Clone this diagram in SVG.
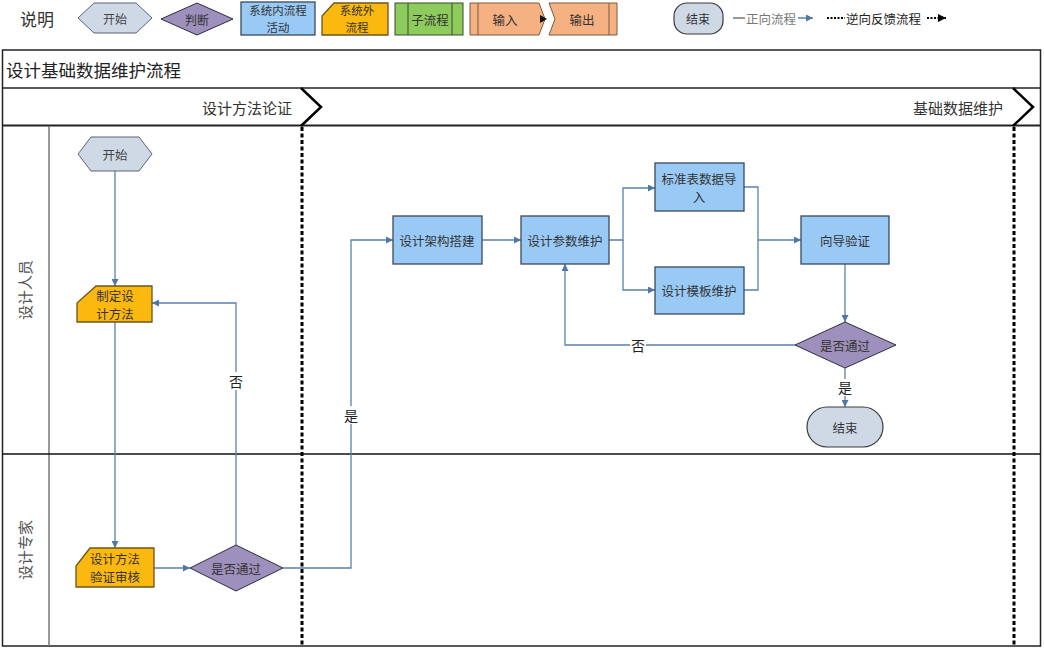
<svg xmlns="http://www.w3.org/2000/svg" width="1044" height="652" viewBox="0 0 1044 652">
<defs>
<style>
text{font-family:"Noto Sans CJK SC","Liberation Sans",sans-serif;fill:#333;}
.t13{font-size:12.5px;text-anchor:middle;dominant-baseline:central;}
.t12{font-size:11.5px;text-anchor:middle;dominant-baseline:central;}
.lbl{font-size:14px;text-anchor:middle;dominant-baseline:central;fill:#222;}
.lane{font-size:15px;text-anchor:middle;dominant-baseline:central;fill:#555;}
.hex{fill:#CFD9E6;stroke:#5a6473;stroke-width:1;}
.dia{fill:#9E90BC;stroke:#2e2e3e;stroke-width:1;}
.box{fill:#99C9F5;stroke:#3a4a5a;stroke-width:1.3;}
.ext{fill:#FBB80F;stroke:#6a5520;stroke-width:1.3;}
.sub{fill:#8DCB5C;stroke:#3a4a2a;stroke-width:1;}
.io{fill:#F6B183;stroke:#7a5a40;stroke-width:1;}
.end{fill:#CFD9E6;stroke:#3a3a3a;stroke-width:1.2;}
.con{fill:none;stroke:#5A80AD;stroke-width:1.3;}
.dot{fill:none;stroke:#000;stroke-width:3;stroke-dasharray:4 2.5;}
.frame{fill:none;stroke:#222;stroke-width:1.5;}
</style>
<marker id="ah" viewBox="0 0 10 10" refX="10" refY="5" markerWidth="8" markerHeight="7" markerUnits="userSpaceOnUse" orient="auto">
<path d="M0,0 L10,5 L0,10 z" fill="#4F77A8"/>
</marker>
<marker id="ahk" viewBox="0 0 10 10" refX="10" refY="5" markerWidth="9" markerHeight="8" markerUnits="userSpaceOnUse" orient="auto">
<path d="M0,0 L10,5 L0,10 z" fill="#000"/>
</marker>
</defs>
<rect width="1044" height="652" fill="#fff"/>

<!-- Legend -->
<g id="legend">
<text x="20" y="18" style="font-size:17px;dominant-baseline:central;fill:#333">说明</text>
<g id="lg-start"><polygon class="hex" points="78,18 94,3 136,3 152,18 136,33 94,33"/><text class="t13" x="115" y="18" style="font-size:12px;fill:#444">开始</text></g>
<g id="lg-judge"><polygon class="dia" points="161,19 197,3 233,19 197,35"/><text class="t13" x="197" y="19" style="font-size:12px;fill:#333">判断</text></g>
<g id="lg-inner"><rect class="box" x="241" y="2" width="74" height="33"/><text class="t12" x="278" y="10">系统内流程</text><text class="t12" x="278" y="27">活动</text></g>
<g id="lg-outer"><polygon class="ext" points="334,3 388,3 388,35 322,35 322,16"/><text class="t12" x="357" y="10">系统外</text><text class="t12" x="357" y="27">流程</text></g>
<g id="lg-sub"><rect class="sub" x="395" y="3" width="68" height="32"/><line x1="408" y1="3" x2="408" y2="35" stroke="#3a4a2a"/><line x1="452" y1="3" x2="452" y2="35" stroke="#3a4a2a"/><text class="t13" x="430" y="19">子流程</text></g>
<g id="lg-in"><polygon class="io" points="470,3 539,3 545,19 539,35 470,35"/><line x1="478" y1="3" x2="478" y2="35" stroke="#7a5a40"/><text class="t13" x="505" y="19">输入</text></g>
<g id="lg-out"><polygon class="io" points="549,3 617,3 617,35 549,35 555,19"/><line x1="609" y1="3" x2="609" y2="35" stroke="#7a5a40"/><text class="t13" x="582" y="19">输出</text><path d="M540,15 L547,19 L540,23 z" fill="#111"/></g>
<g id="lg-end"><rect class="end" x="674" y="3" width="49" height="31" rx="13"/><text class="t13" x="698" y="18" style="font-size:12px">结束</text></g>
<g id="lg-fwd"><line x1="733" y1="18" x2="745" y2="18" stroke="#777" stroke-width="1.5"/><text x="746" y="18" style="font-size:12.5px;dominant-baseline:central;fill:#777">正向流程</text><line x1="798" y1="18" x2="813" y2="18" stroke="#5A80AD" stroke-width="1.5" marker-end="url(#ah)"/></g>
<g id="lg-back"><line x1="827" y1="18" x2="845" y2="18" stroke="#000" stroke-width="2" stroke-dasharray="2 1.5"/><text x="846" y="18" style="font-size:12.5px;dominant-baseline:central;fill:#222">逆向反馈流程</text><line x1="927" y1="18" x2="946" y2="18" stroke="#000" stroke-width="2" stroke-dasharray="2 1.5" marker-end="url(#ahk)"/></g>
</g>

<!-- Frame / swimlanes -->
<g id="frame">
<rect class="frame" x="2.5" y="50" width="1038" height="596"/>
<line x1="2.5" y1="88" x2="1040.5" y2="88" stroke="#222" stroke-width="1.5"/>
<line x1="2.5" y1="125.5" x2="1040.5" y2="125.5" stroke="#222" stroke-width="2"/>
<line x1="49" y1="126" x2="49" y2="646" stroke="#777" stroke-width="1.5"/>
<line x1="2.5" y1="454" x2="1040.5" y2="454" stroke="#111" stroke-width="1.5"/>
<text x="6" y="69" style="font-size:17.5px;dominant-baseline:central;fill:#222">设计基础数据维护流程</text>
<text x="292" y="107" style="font-size:15px;dominant-baseline:central;text-anchor:end;fill:#333">设计方法论证</text>
<text x="1003" y="107" style="font-size:15px;dominant-baseline:central;text-anchor:end;fill:#333">基础数据维护</text>
<polyline points="301,88 321,107 301,126" fill="none" stroke="#000" stroke-width="2.5"/>
<polyline points="1013,88 1033,107 1013,126" fill="none" stroke="#000" stroke-width="2.5"/>
<line class="dot" x1="302" y1="127" x2="302" y2="646"/>
<line class="dot" x1="1014" y1="127" x2="1014" y2="646"/>
<text class="lane" transform="translate(24,290) rotate(-90)">设计人员</text>
<text class="lane" transform="translate(24,550) rotate(-90)">设计专家</text>
</g>

<!-- Connectors -->
<g id="connectors">
<path class="con" d="M115,171 V286" marker-end="url(#ah)"/>
<path class="con" d="M115,322 V548" marker-end="url(#ah)"/>
<path class="con" d="M154,568 H190" marker-end="url(#ah)"/>
<path class="con" d="M236,545 V303 H152" marker-end="url(#ah)"/>
<path class="con" d="M283,568 H351 V240 H393" marker-end="url(#ah)"/>
<path class="con" d="M482,240 H521" marker-end="url(#ah)"/>
<path class="con" d="M609,240 H623 V188 H655" marker-end="url(#ah)"/>
<path class="con" d="M623,240 V290 H655" marker-end="url(#ah)"/>
<path class="con" d="M744,187 H758 V290 H744"/>
<path class="con" d="M758,240 H801" marker-end="url(#ah)"/>
<path class="con" d="M845,264 V322" marker-end="url(#ah)"/>
<path class="con" d="M795,345 H565 V264" marker-end="url(#ah)"/>
<path class="con" d="M845,368 V407" marker-end="url(#ah)"/>
<rect x="228" y="372" width="16" height="18" fill="#fff"/>
<text class="lbl" x="236" y="381">否</text>
<rect x="343" y="406" width="16" height="18" fill="#fff"/>
<text class="lbl" x="351" y="415">是</text>
<rect x="630" y="337" width="16" height="17" fill="#fff"/>
<text class="lbl" x="638" y="345">否</text>
<rect x="837" y="379" width="16" height="17" fill="#fff"/>
<text class="lbl" x="845" y="387">是</text>
</g>

<!-- Nodes -->
<g id="n-start"><polygon class="hex" points="78,154 91,137 139,137 152,154 139,171 91,171"/><text class="t13" x="115" y="154" style="fill:#444">开始</text></g>
<g id="n-define"><polygon class="ext" points="96,286 152,286 152,322 77,322 77,303"/><text class="t13" x="115" y="295">制定设</text><text class="t13" x="115" y="313">计方法</text></g>
<g id="n-review"><polygon class="ext" points="90,548 154,548 154,587 76,587 76,566"/><text class="t13" x="115" y="558">设计方法</text><text class="t13" x="115" y="576">验证审核</text></g>
<g id="n-pass1"><polygon class="dia" points="190,568 236,545 283,568 236,591"/><text class="t13" x="236" y="568">是否通过</text></g>
<g id="n-arch"><rect class="box" x="393" y="216" width="89" height="48"/><text class="t13" x="437" y="240">设计架构搭建</text></g>
<g id="n-param"><rect class="box" x="521" y="216" width="88" height="48"/><text class="t13" x="565" y="240">设计参数维护</text></g>
<g id="n-std"><rect class="box" x="655" y="163" width="89" height="48"/><text class="t13" x="699" y="178">标准表数据导</text><text class="t13" x="699" y="196">入</text></g>
<g id="n-tpl"><rect class="box" x="655" y="267" width="89" height="47"/><text class="t13" x="699" y="290">设计模板维护</text></g>
<g id="n-guide"><rect class="box" x="801" y="216" width="88" height="48"/><text class="t13" x="845" y="240">向导验证</text></g>
<g id="n-pass2"><polygon class="dia" points="795,345 845,322 896,345 845,368"/><text class="t13" x="845" y="345">是否通过</text></g>
<g id="n-end"><rect class="end" x="807" y="407" width="76" height="40" rx="20"/><text class="t13" x="845" y="427">结束</text></g>
</svg>
